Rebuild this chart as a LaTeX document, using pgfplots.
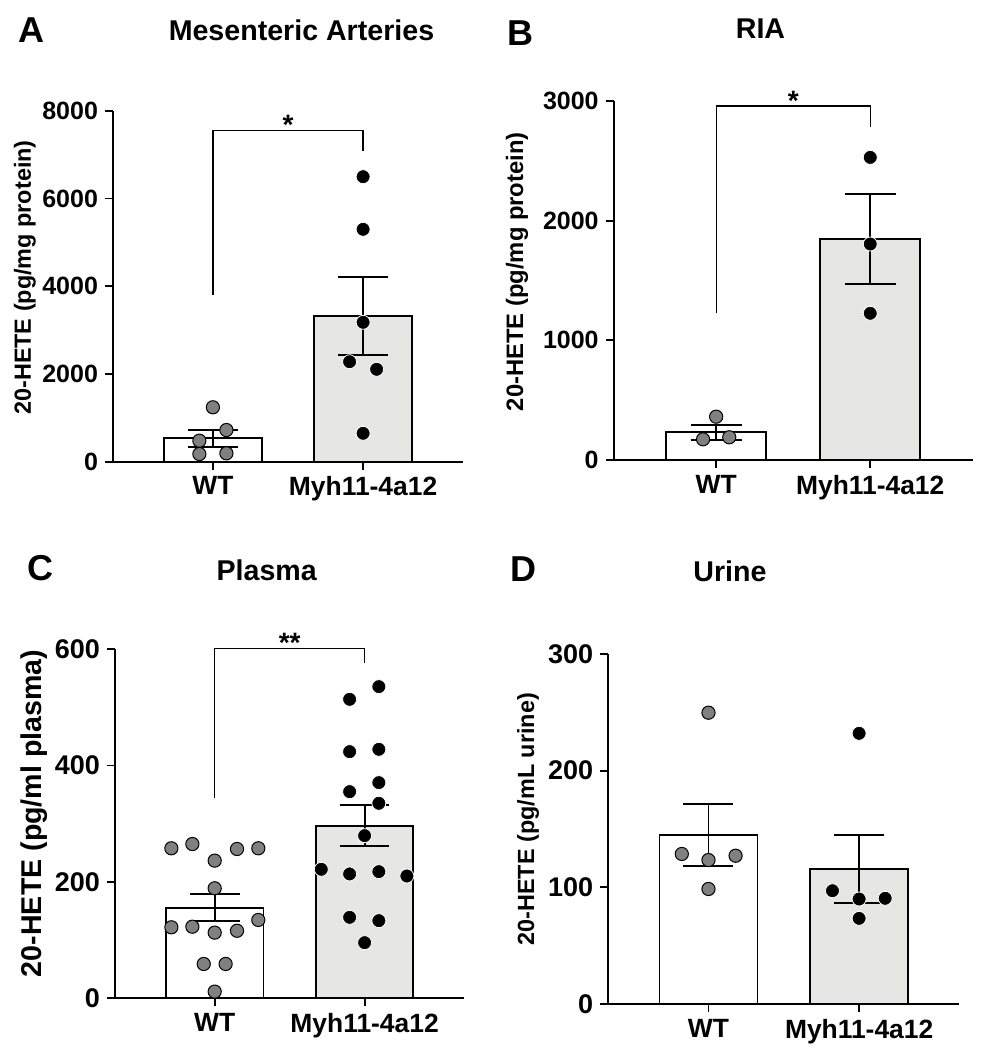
\documentclass[border=0pt]{standalone}
\usepackage{fontspec}
\setmainfont{Liberation Sans}
\usepackage{pgfplots}
\pgfplotsset{compat=1.18}
\definecolor{barfill}{RGB}{230,230,228}
\definecolor{dotgray}{RGB}{128,128,128}
\pgfplotsset{
  panel/.style={
    scale only axis,
    anchor=south west,
    axis x line*=bottom, axis y line*=left,
    axis line style={-, line width=0.9pt},
    tick align=outside,
    major tick length=4pt,
    tick style={line width=0.9pt, black},
    xmin=-0.665, xmax=1.665, ymin=0,
    xtick={0,1}, xticklabels={WT, Myh11-4a12},
    /pgf/number format/assume math mode=true,
    /pgf/number format/1000 sep={},
    scaled y ticks=false,
    clip=false,
    x tick label style={font=\bfseries\fontsize{13.2}{15}\selectfont},
  },
  wtbar/.style={ybar, bar width=0.65, bar shift=0pt, draw=black, line width=0.9pt, fill=white},
  kobar/.style={ybar, bar width=0.65, bar shift=0pt, draw=black, line width=0.9pt, fill=barfill},
  sem/.style={black, line width=0.9pt, mark=none},
  wtdots/.style={only marks, mark=*, mark size=3.3pt, mark options={fill=dotgray, draw=black, line width=0.5pt}},
  kodots/.style={only marks, mark=*, mark size=3.5pt, mark options={fill=black, draw=white, line width=0.4pt}},
  bracket/.style={black, line width=0.65pt, mark=none},
}
\begin{document}
\begin{tikzpicture}
\useasboundingbox (0,0) rectangle (491pt,-525pt);

% ---------------- A ----------------
\begin{axis}[panel, at={(113*0.5pt,-461.7*0.5pt)}, width=175pt, height=175.5pt,
  ymax=8000, ytick={0,2000,4000,6000,8000},
  y tick label style={font=\bfseries\fontsize{12.5}{14}\selectfont}]
\addplot[wtbar] coordinates {(0,533)};
\addplot[kobar] coordinates {(1,3321)};
\addplot[sem] coordinates {(0,343) (0,723)};
\addplot[sem] coordinates {(-0.166,343) (0.166,343)};
\addplot[sem] coordinates {(-0.166,723) (0.166,723)};
\addplot[sem] coordinates {(1,2432) (1,4210)};
\addplot[sem] coordinates {(0.834,2432) (1.166,2432)};
\addplot[sem] coordinates {(0.834,4210) (1.166,4210)};
\addplot[wtdots] coordinates {(0,1240) (0.09,722) (-0.09,479) (-0.09,175) (0.09,191)};
\addplot[kodots] coordinates {(1,6496) (1,5297) (1,3177) (0.91,2279) (1.09,2106) (1,647)};
\addplot[bracket] coordinates {(0,3806) (0,7544) (1,7544) (1,7081)};
\node[font=\bfseries\fontsize{14}{14}\selectfont, anchor=base, yshift=-2pt] at (axis cs:0.5,7544) {*};
\end{axis}

% ---------------- B ----------------
\begin{axis}[panel, at={(613.7*0.5pt,-460*0.5pt)}, width=179.5pt, height=179.5pt,
  ymax=3000, ytick={0,1000,2000,3000},
  y tick label style={font=\bfseries\fontsize{12.5}{14}\selectfont}]
\addplot[wtbar] coordinates {(0,231)};
\addplot[kobar] coordinates {(1,1847)};
\addplot[sem] coordinates {(0,168) (0,294)};
\addplot[sem] coordinates {(-0.166,168) (0.166,168)};
\addplot[sem] coordinates {(-0.166,294) (0.166,294)};
\addplot[sem] coordinates {(1,1471) (1,2223)};
\addplot[sem] coordinates {(0.834,1471) (1.166,1471)};
\addplot[sem] coordinates {(0.834,2223) (1.166,2223)};
\addplot[wtdots] coordinates {(0,362) (-0.085,173) (0.085,190)};
\addplot[kodots] coordinates {(1,2529) (1,1805) (1,1226)};
\addplot[bracket] coordinates {(0,1226) (0,2958) (1,2958) (1,2780)};
\node[font=\bfseries\fontsize{14}{14}\selectfont, anchor=base, yshift=-2pt] at (axis cs:0.5,2958) {*};
\end{axis}

% ---------------- C ----------------
\begin{axis}[panel, at={(115*0.5pt,-998.3*0.5pt)}, width=174.65pt, height=174.65pt,
  ymax=600, ytick={0,200,400,600},
  y tick label style={font=\bfseries\fontsize{13.5}{15}\selectfont}]
\addplot[wtbar] coordinates {(0,155.6)};
\addplot[kobar] coordinates {(1,296.5)};
\addplot[sem] coordinates {(0,132.6) (0,178.6)};
\addplot[sem] coordinates {(-0.166,132.6) (0.166,132.6)};
\addplot[sem] coordinates {(-0.166,178.6) (0.166,178.6)};
\addplot[sem] coordinates {(1,261.5) (1,331.5)};
\addplot[sem] coordinates {(0.834,261.5) (1.166,261.5)};
\addplot[sem] coordinates {(0.834,331.5) (1.166,331.5)};
\addplot[wtdots] coordinates {(-0.289,257.7) (-0.149,265) (0.149,256.5) (0.291,257.7) (0,236.5) (0,189)
  (-0.289,122) (-0.149,123) (0,112.8) (0.149,116) (0.291,134.6) (-0.073,59) (0.073,59) (0,11.5)};
\addplot[kodots] coordinates {(1.095,535.4) (0.9,513.6) (0.9,423.7) (1.095,427.7) (1.095,370.5) (0.9,355)
  (1.095,335) (1,279.4) (0.711,221.6) (0.9,213.6) (1.095,217.6) (1.282,210.1) (0.9,139.1) (1.095,133.4) (1,95.6)};
\addplot[bracket] coordinates {(0,343.5) (0,601) (1,601) (1,575.5)};
\node[font=\bfseries\fontsize{14}{14}\selectfont, anchor=base, yshift=-2pt] at (axis cs:0.5,601) {**};
\end{axis}

% ---------------- D ----------------
\begin{axis}[panel, at={(608.3*0.5pt,-1004*0.5pt)}, width=175.5pt, height=175pt,
  ymax=300, ytick={0,100,200,300},
  y tick label style={font=\bfseries\fontsize{13.5}{15}\selectfont}]
\addplot[wtbar] coordinates {(0,144.9)};
\addplot[kobar] coordinates {(1,115.7)};
\addplot[sem] coordinates {(0,118.2) (0,171.6)};
\addplot[sem] coordinates {(-0.166,118.2) (0.166,118.2)};
\addplot[sem] coordinates {(-0.166,171.6) (0.166,171.6)};
\addplot[sem] coordinates {(1,86.4) (1,145)};
\addplot[sem] coordinates {(0.834,86.4) (1.166,86.4)};
\addplot[sem] coordinates {(0.834,145) (1.166,145)};
\addplot[wtdots] coordinates {(0,249.7) (-0.177,128.6) (0.18,127.1) (0,123.4) (0,98.6)};
\addplot[kodots] coordinates {(1,232) (0.823,97.1) (1,90) (1.173,90.6) (1,73.4)};
\end{axis}

% ---------------- panel letters, titles, y labels ----------------
\begin{scope}[every node/.style={font=\bfseries}]
\node[anchor=base, font=\bfseries\fontsize{18}{20}\selectfont] at (31.8*0.5pt,-42.5*0.5pt) {A};
\node[anchor=base, font=\bfseries\fontsize{18}{20}\selectfont] at (520.3*0.5pt,-45*0.5pt) {B};
\node[anchor=base, font=\bfseries\fontsize{18}{20}\selectfont] at (40*0.5pt,-580*0.5pt) {C};
\node[anchor=base, font=\bfseries\fontsize{18}{20}\selectfont] at (523*0.5pt,-581.7*0.5pt) {D};

\node[anchor=base, font=\bfseries\fontsize{14.3}{16}\selectfont] at (301.5*0.5pt,-40*0.5pt) {Mesenteric Arteries};
\node[anchor=base, font=\bfseries\fontsize{14.3}{16}\selectfont] at (760.5*0.5pt,-38.3*0.5pt) {RIA};
\node[anchor=base, font=\bfseries\fontsize{14.3}{16}\selectfont] at (266.7*0.5pt,-580*0.5pt) {Plasma};
\node[anchor=base, font=\bfseries\fontsize{14.3}{16}\selectfont] at (730*0.5pt,-581.7*0.5pt) {Urine};

\node[rotate=90, anchor=base, font=\bfseries\fontsize{11.7}{14}\selectfont] at (31*0.5pt,-277.5*0.5pt) {20-HETE (pg/mg protein)};
\node[rotate=90, anchor=base, font=\bfseries\fontsize{11.9}{14}\selectfont] at (523*0.5pt,-271.7*0.5pt) {20-HETE (pg/mg protein)};
\node[rotate=90, anchor=base, font=\bfseries\fontsize{14.3}{16}\selectfont] at (41*0.5pt,-813.3*0.5pt) {20-HETE (pg/ml plasma)};
\node[rotate=90, anchor=base, font=\bfseries\fontsize{11.7}{14}\selectfont] at (534*0.5pt,-819.2*0.5pt) {20-HETE (pg/mL urine)};
\end{scope}
\end{tikzpicture}
\end{document}
